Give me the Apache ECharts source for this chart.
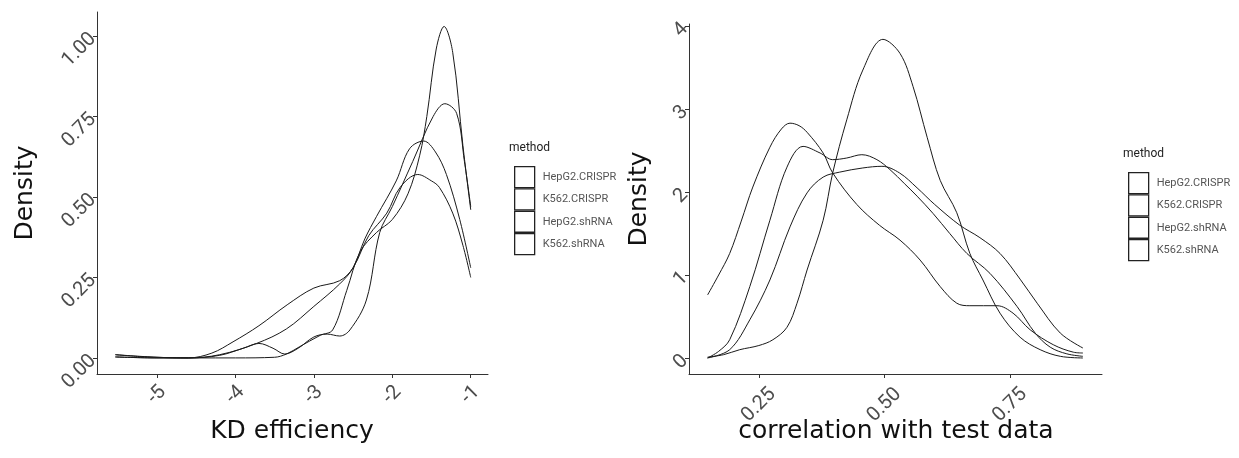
<!DOCTYPE html>
<html>
<head>
<meta charset="utf-8">
<script src="https://cdn.jsdelivr.net/npm/echarts@6/dist/echarts.min.js"></script>
<style>
  html, body { margin: 0; padding: 0; background: #fff; }
  #chart { width: 1239px; height: 458px; }
</style>
</head>
<body>
<div id="chart"></div>
<script>
// Method groups shared by both density panels
const methods = ['HepG2.CRISPR', 'K562.CRISPR', 'HepG2.shRNA', 'K562.shRNA'];

// Left panel: knockdown efficiency densities, one [x, density] list per method
const kdHepG2Crispr = [[-5.53,0.01],[-5.2,0.004],[-4.6,0.0],[-4.2,0.008],[-3.9,0.03],[-3.7,0.045],[-3.52,0.03],[-3.37,0.012],[-3.2,0.03],[-3.0,0.065],[-2.83,0.074],[-2.67,0.068],[-2.54,0.087],[-2.33,0.18],[-2.16,0.39],[-2.0,0.47],[-1.74,0.61],[-1.48,0.75],[-1.33,0.79],[-1.18,0.76],[-1.08,0.61],[-1.0,0.47]];
const kdK562Crispr = [[-5.53,0.003],[-5.0,0.0],[-4.0,0.0],[-3.5,0.002],[-3.35,0.012],[-3.18,0.035],[-2.92,0.07],[-2.76,0.087],[-2.58,0.21],[-2.41,0.33],[-2.2,0.39],[-2.0,0.43],[-1.8,0.51],[-1.65,0.63],[-1.56,0.75],[-1.44,0.96],[-1.34,1.03],[-1.23,0.95],[-1.1,0.66],[-1.0,0.46]];
const kdHepG2Shrna = [[-5.53,0.003],[-5.0,0.0],[-4.6,0.0],[-4.2,0.01],[-3.73,0.045],[-3.35,0.09],[-3.0,0.16],[-2.67,0.23],[-2.5,0.28],[-2.35,0.37],[-2.2,0.44],[-1.95,0.55],[-1.78,0.65],[-1.6,0.674],[-1.45,0.64],[-1.31,0.57],[-1.14,0.43],[-1.0,0.28]];
const kdK562Shrna = [[-5.53,0.01],[-5.0,0.002],[-4.6,0.0],[-4.3,0.015],[-4.03,0.05],[-3.7,0.1],[-3.34,0.165],[-3.0,0.217],[-2.67,0.24],[-2.5,0.28],[-2.3,0.38],[-2.07,0.45],[-1.9,0.53],[-1.675,0.57],[-1.5,0.55],[-1.4,0.53],[-1.23,0.45],[-1.1,0.35],[-1.0,0.25]];

// Right panel: correlation-with-test-data densities
const corHepG2Crispr = [[0.148,0.01],[0.18,0.04],[0.212,0.1],[0.25,0.15],[0.278,0.22],[0.306,0.37],[0.326,0.66],[0.346,1.06],[0.378,1.66],[0.397,2.23],[0.425,2.87],[0.457,3.47],[0.497,3.84],[0.531,3.67],[0.557,3.27],[0.585,2.66],[0.611,2.14],[0.644,1.75],[0.67,1.26],[0.696,0.94],[0.73,0.54],[0.77,0.25],[0.81,0.1],[0.85,0.02],[0.895,0.0]];
const corK562Crispr = [[0.148,0.76],[0.17,1.0],[0.192,1.26],[0.215,1.65],[0.238,2.06],[0.272,2.54],[0.295,2.76],[0.312,2.83],[0.33,2.8],[0.346,2.72],[0.378,2.47],[0.397,2.23],[0.445,1.85],[0.49,1.6],[0.531,1.42],[0.571,1.18],[0.611,0.86],[0.644,0.66],[0.67,0.63],[0.724,0.63],[0.756,0.54],[0.79,0.34],[0.836,0.16],[0.876,0.07],[0.895,0.06]];
const corHepG2Shrna = [[0.148,0.0],[0.17,0.08],[0.192,0.22],[0.232,0.86],[0.272,1.66],[0.306,2.3],[0.338,2.55],[0.372,2.47],[0.397,2.39],[0.425,2.41],[0.455,2.45],[0.485,2.39],[0.511,2.27],[0.54,2.1],[0.565,1.95],[0.597,1.74],[0.63,1.5],[0.664,1.26],[0.71,1.02],[0.764,0.62],[0.8,0.3],[0.83,0.13],[0.863,0.05],[0.895,0.02]];
const corK562Shrna = [[0.148,0.0],[0.192,0.1],[0.232,0.46],[0.272,0.94],[0.312,1.58],[0.346,1.99],[0.378,2.18],[0.411,2.24],[0.457,2.29],[0.495,2.31],[0.53,2.23],[0.565,2.05],[0.6,1.85],[0.65,1.6],[0.69,1.45],[0.73,1.26],[0.77,0.95],[0.804,0.66],[0.85,0.3],[0.895,0.12]];

// Tick positions
const kdTicks = [-5, -4, -3, -2, -1];
const kdDensityTicks = [0, 0.25, 0.5, 0.75, 1];
const corTicks = [0.25, 0.5, 0.75];
const corDensityTicks = [0, 1, 2, 3, 4];

const kdSeries = [kdHepG2Crispr, kdK562Crispr, kdHepG2Shrna, kdK562Shrna];
const corSeries = [corHepG2Crispr, corK562Crispr, corHepG2Shrna, corK562Shrna];

const labelFont = 'Roboto, "Liberation Sans", sans-serif';
const titleFont = '"DejaVu Sans", sans-serif';
const axisColor = '#333';
const tickLabelColor = '#4d4d4d';

function makeXAxis(gridIndex, min, max, ticks, fmt, margin) {
  return {
    type: 'value', gridIndex, min, max,
    axisLine: { show: true, onZero: false, lineStyle: { color: axisColor, width: 1 } },
    axisTick: { show: true, customValues: ticks, length: 4, lineStyle: { color: axisColor } },
    axisLabel: {
      customValues: ticks, rotate: 45, align: 'center', verticalAlign: 'middle',
      margin, fontSize: 20, color: tickLabelColor, fontFamily: labelFont, formatter: fmt
    },
    splitLine: { show: false }
  };
}
function makeYAxis(gridIndex, min, max, ticks, fmt) {
  return {
    type: 'value', gridIndex, min, max,
    axisLine: { show: true, onZero: false, lineStyle: { color: axisColor, width: 1 } },
    axisTick: { show: true, customValues: ticks, length: 4, lineStyle: { color: axisColor } },
    axisLabel: {
      customValues: ticks, rotate: 45, margin: 4,
      fontSize: 20, color: tickLabelColor, fontFamily: labelFont, formatter: fmt
    },
    splitLine: { show: false }
  };
}

function densityLine(name, data, idx) {
  return {
    type: 'line', name, data,
    xAxisIndex: idx, yAxisIndex: idx,
    smooth: 0.35,
    showSymbol: false, symbol: 'none',
    lineStyle: { color: '#1a1a1a', width: 1 },
    itemStyle: { color: '#1a1a1a' },
    silent: true
  };
}

function makeLegend(left, top) {
  return {
    orient: 'vertical', left, top,
    data: methods, icon: 'rect',
    itemWidth: 20, itemHeight: 21, itemGap: 0,
    selectedMode: false,
    itemStyle: { color: '#ffffff', borderColor: '#222', borderWidth: 1.3 },
    textStyle: { fontSize: 11, color: '#555', fontFamily: labelFont, padding: [0, 0, 0, 3] }
  };
}

const chart = echarts.init(document.getElementById('chart'), null, { renderer: 'canvas' });
chart.setOption({
  animation: false,
  backgroundColor: '#ffffff',
  grid: [
    { left: 97, top: 12, width: 391, height: 362 },
    { left: 689, top: 24, width: 413, height: 350 }
  ],
  xAxis: [
    makeXAxis(0, -5.764, -0.78, kdTicks, v => String(v), 21),
    makeXAxis(1, 0.111, 0.933, corTicks, v => v.toFixed(2), 31)
  ],
  yAxis: [
    makeYAxis(0, -0.05, 1.075, kdDensityTicks, v => v.toFixed(2)),
    makeYAxis(1, -0.193, 4.025, corDensityTicks, v => String(v))
  ],
  legend: [makeLegend(509, 161), makeLegend(1123, 167)],
  graphic: [
    { type: 'text', x: 25, y: 193, rotation: Math.PI / 2,
      style: { text: 'Density', font: '25px ' + titleFont, fill: '#111', align: 'center', verticalAlign: 'middle' } },
    { type: 'text', x: 292, y: 431,
      style: { text: 'KD efficiency', font: '25px ' + titleFont, fill: '#111', align: 'center', verticalAlign: 'middle' } },
    { type: 'text', x: 639, y: 199, rotation: Math.PI / 2,
      style: { text: 'Density', font: '25px ' + titleFont, fill: '#111', align: 'center', verticalAlign: 'middle' } },
    { type: 'text', x: 896, y: 431,
      style: { text: 'correlation with test data', font: '25px ' + titleFont, fill: '#111', align: 'center', verticalAlign: 'middle' } },
    { type: 'text', x: 509, y: 148,
      style: { text: 'method', font: '12px ' + labelFont, fill: '#222', align: 'left', verticalAlign: 'middle' } },
    { type: 'text', x: 1123, y: 154,
      style: { text: 'method', font: '12px ' + labelFont, fill: '#222', align: 'left', verticalAlign: 'middle' } }
  ],
  series: [
    ...methods.map((m, i) => densityLine(m, kdSeries[i], 0)),
    ...methods.map((m, i) => densityLine(m, corSeries[i], 1))
  ]
});
</script>
</body>
</html>
